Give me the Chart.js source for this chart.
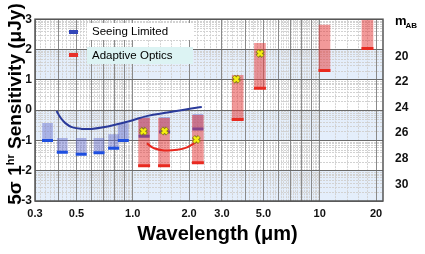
<!DOCTYPE html>
<html>
<head>
<meta charset="utf-8">
<script src="https://cdn.jsdelivr.net/npm/chart.js@4.4.0/dist/chart.umd.min.js"></script>
<style>
  html, body { margin: 0; padding: 0; background: #fff; }
  #wrap { width: 425px; height: 254px; }
</style>
</head>
<body>
<div id="wrap"><canvas id="chart" width="425" height="254"></canvas></div>
<script>
// seeing limited bands (blue), log10 sensitivity in uJy
const seeingWl  = [0.35, 0.42, 0.53, 0.66, 0.79, 0.89, 1.15, 1.48, 2.23];
const seeingTop = [-0.44, -0.93, -0.93, -0.93, -0.81, -0.44, -0.24, -0.24, -0.14];
const seeingBot = [-1.00, -1.39, -1.46, -1.41, -1.26, -1.00, -0.86, -0.72, -0.62];

// adaptive optics bands (red)
const aoWl  = [1.15, 1.47, 2.23, 3.64, 4.79, 10.6, 18.0];
const aoTop = [-0.27, -0.27, -0.17, 1.15, 2.20, 2.81, 3.20];
const aoBot = [-1.84, -1.84, -1.74, -0.31, 0.72, 1.31, 2.03];

// yellow crosses
const markWl  = [1.14, 1.48, 2.19, 3.58, 4.80];
const markVal = [-0.70, -0.69, -0.97, 1.02, 1.87];

// curves
const seeingCurveWl  = [0.391, 0.410, 0.436, 0.472, 0.533, 0.602, 0.709, 0.833, 0.98, 1.2, 1.53, 1.95, 2.34];
const seeingCurveVal = [-0.03, -0.24, -0.43, -0.56, -0.62, -0.62, -0.56, -0.46, -0.35, -0.19, -0.08, 0.03, 0.10];
const aoCurveWl  = [1.19, 1.30, 1.47, 1.73, 1.95, 2.16, 2.25];
const aoCurveVal = [-1.10, -1.26, -1.33, -1.31, -1.23, -1.07, -0.97];

// axes
const xMin = 0.315, xMax = 21.8;
const xTickVals   = [0.3, 0.5, 1, 2, 3, 5, 10, 20];
const xTickLabels = ['0.3', '0.5', '1.0', '2.0', '3.0', '5.0', '10', '20'];
const xGridVals   = [0.4, 0.6, 0.7, 0.8, 0.9, 4, 6, 7, 8, 9];
const yTicks  = [-3, -2, -1, 0, 1, 2, 3];
const abTicks = [20, 22, 24, 26, 28, 30];
const bandRanges = [[1, 2], [-1, 0], [-3, -2]];
const legendLabels = ['Seeing Limited', 'Adaptive Optics'];

const FONT = '"Liberation Sans", Arial, Helvetica, sans-serif';
Chart.defaults.font.family = FONT;

const pts = (xs, ys) => xs.map((v, i) => ({x: v, y: ys[i]}));
const bars = (xs, lo, hi) => xs.map((v, i) => ({x: v, y: [lo[i], hi[i]]}));

const decor = {
  id: 'decor',
  beforeDraw(chart) {
    const {ctx, chartArea: a, scales: {x, y}} = chart;
    ctx.save();
    ctx.fillStyle = '#e4eefb';
    bandRanges.forEach(([lo, hi]) => {
      const t = y.getPixelForValue(hi), b = y.getPixelForValue(lo);
      ctx.fillRect(a.left, t, a.right - a.left, b - t);
    });
    // faint minor grid
    ctx.strokeStyle = '#d2d2d2';
    ctx.lineWidth = 1;
    ctx.setLineDash([2, 1]);
    ctx.beginPath();
    for (let d = -3; d < 3; d++) {
      for (let k = 2; k <= 9; k++) {
        const py = Math.round(y.getPixelForValue(d + Math.log10(k))) + 0.5;
        ctx.moveTo(a.left, py); ctx.lineTo(a.right, py);
      }
    }
    [[0.3, 1, 0.02], [1, 10, 0.2], [10, 22, 2]].forEach(([from, to, step]) => {
      for (let v = from + step; v < to - step / 2; v += step) {
        if (v < x.min || v > x.max) continue;
        const px = Math.round(x.getPixelForValue(v)) + 0.5;
        ctx.moveTo(px, a.top); ctx.lineTo(px, a.bottom);
      }
    });
    ctx.stroke();
    ctx.restore();
  },
  afterDraw(chart) {
    const {ctx, chartArea: a} = chart;
    ctx.save();
    // frame
    ctx.strokeStyle = '#555';
    ctx.lineWidth = 1.5;
    ctx.strokeRect(a.left, a.top, a.right - a.left, a.bottom - a.top);

    // legend
    ctx.fillStyle = '#ffffff';
    ctx.fillRect(87, 23, 106, 17);
    ctx.fillStyle = '#dcf3f3';
    ctx.fillRect(87, 47, 106, 17);
    ctx.fillStyle = '#3346b8';
    ctx.fillRect(69, 30, 9, 4);
    ctx.fillStyle = '#e8302a';
    ctx.fillRect(69, 53, 9, 4);
    ctx.fillStyle = '#000';
    ctx.font = '11.5px ' + FONT;
    ctx.textBaseline = 'middle';
    ctx.fillText(legendLabels[0], 92, 32);
    ctx.fillText(legendLabels[1], 92, 55.5);

    // m_AB
    ctx.textBaseline = 'alphabetic';
    ctx.font = 'bold 13px ' + FONT;
    ctx.fillText('m', 395, 25);
    ctx.font = 'bold 8px ' + FONT;
    ctx.fillText('AB', 405.5, 28);

    // x title
    ctx.font = 'bold 20px ' + FONT;
    ctx.textAlign = 'center';
    ctx.fillText('Wavelength (\u03bcm)', 217.5, 240);

    // y title with superscript
    const parts = [
      {t: '5\u03c3 1', f: 'bold 19px ' + FONT, dy: 0},
      {t: 'hr', f: 'bold 11px ' + FONT, dy: -7},
      {t: ' Sensitivity (\u03bcJy)', f: 'bold 19px ' + FONT, dy: 0}
    ];
    ctx.textAlign = 'left';
    let total = 0;
    parts.forEach(p => { ctx.font = p.f; p.w = ctx.measureText(p.t).width; total += p.w; });
    ctx.translate(21, 104);
    ctx.rotate(-Math.PI / 2);
    let cx = -total / 2;
    parts.forEach(p => { ctx.font = p.f; ctx.fillText(p.t, cx, p.dy); cx += p.w; });
    ctx.restore();
  }
};

new Chart(document.getElementById('chart'), {
  type: 'bar',
  data: {
    datasets: [
      {
        type: 'scatter', order: 0,
        data: pts(markWl, markVal),
        pointStyle: 'crossRot', pointRadius: 3.6, borderWidth: 2.4,
        borderColor: '#f4ee10', backgroundColor: '#f4ee10'
      },
      {
        type: 'scatter', order: 1,
        data: pts(markWl, markVal),
        pointStyle: 'crossRot', pointRadius: 4.2, borderWidth: 4.4,
        borderColor: '#8a7a20', backgroundColor: '#8a7a20'
      },
      {
        type: 'line', order: 2,
        data: pts(aoCurveWl, aoCurveVal),
        borderColor: '#e8281e', borderWidth: 2, pointRadius: 0, tension: 0.4, fill: false
      },
      {
        type: 'line', order: 3,
        data: pts(seeingCurveWl, seeingCurveVal),
        borderColor: '#2a3a9a', borderWidth: 2, pointRadius: 0, tension: 0.4, fill: false
      },
      {
        type: 'scatter', order: 4,
        data: pts(aoWl, aoBot),
        pointStyle: 'line', pointRadius: 6, borderWidth: 3, borderColor: '#e82a20'
      },
      {
        order: 5,
        data: bars(aoWl, aoBot, aoTop),
        backgroundColor: 'rgba(230, 60, 60, 0.52)',
        barThickness: 11, grouped: false, borderWidth: 0
      },
      {
        type: 'scatter', order: 6,
        data: pts(seeingWl, seeingBot),
        pointStyle: 'line', pointRadius: 5.5, borderWidth: 3, borderColor: '#1e4fe0'
      },
      {
        order: 7,
        data: bars(seeingWl, seeingBot, seeingTop),
        backgroundColor: 'rgba(95, 105, 205, 0.45)',
        barThickness: 10, grouped: false, borderWidth: 0
      }
    ]
  },
  options: {
    responsive: false,
    animation: false,
    layout: { padding: { top: 14, left: 0, right: 0, bottom: 0 } },
    plugins: { legend: { display: false }, tooltip: { enabled: false } },
    scales: {
      x: {
        type: 'logarithmic',
        min: xMin, max: xMax,
        offset: false,
        afterBuildTicks(scale) {
          scale.ticks = xGridVals.concat(xTickVals).sort((p, q) => p - q)
            .map(v => ({value: Math.max(v, scale.min)}));
        },
        afterFit(scale) { scale.height = 53; },
        grid: { color: '#8a8a8a', lineWidth: 1, drawTicks: false, offset: false },
        border: { display: false },
        ticks: {
          autoSkip: false, maxRotation: 0, padding: 6, color: '#111',
          font: { size: 11, weight: 'bold' },
          callback(value) {
            const i = xTickVals.findIndex(t => Math.abs(Math.log10(t / value)) < 0.03);
            return i < 0 ? '' : xTickLabels[i];
          }
        }
      },
      y: {
        type: 'linear',
        min: -3, max: 3,
        afterBuildTicks(scale) { scale.ticks = yTicks.map(v => ({value: v})); },
        afterFit(scale) { scale.width = 35; },
        grid: { color: '#6a6a6a', lineWidth: 1, drawTicks: false },
        border: { display: false },
        ticks: { padding: 3, color: '#111', font: { size: 12, weight: 'bold' } }
      },
      ab: {
        type: 'linear',
        position: 'right',
        reverse: true,
        min: 17.1, max: 31.3,
        afterBuildTicks(scale) { scale.ticks = abTicks.map(v => ({value: v})); },
        afterFit(scale) { scale.width = 42; },
        grid: { drawOnChartArea: false, drawTicks: false },
        border: { display: false },
        ticks: { padding: 12, color: '#111', font: { size: 12, weight: 'bold' } }
      }
    }
  },
  plugins: [decor]
});
</script>
</body>
</html>
